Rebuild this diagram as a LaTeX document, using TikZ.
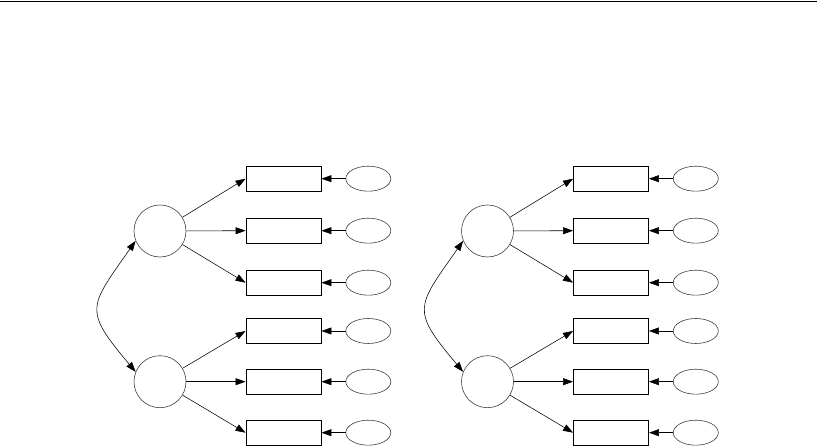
\documentclass[tikz,border=0pt]{standalone}
\usetikzlibrary{arrows.meta,shapes.geometric}
\begin{document}
\begin{tikzpicture}[x=1pt,y=1pt,
  obs/.style={draw=black,line width=0.9pt,minimum width=75pt,minimum height=25pt,inner sep=0pt},
  lat/.style={circle,draw=black!75,line width=0.6pt,minimum size=52pt,inner sep=0pt},
  err/.style={ellipse,draw=black!75,line width=0.6pt,minimum width=45pt,minimum height=25pt,inner sep=0pt},
  pth/.style={line width=0.55pt,-{Triangle[length=10pt,width=7pt]}},
  cov/.style={line width=0.55pt,{Triangle[length=10pt,width=7pt]}-{Triangle[length=10pt,width=7pt]}}]
\useasboundingbox (0,0) rectangle (817,446);
\coordinate (tl) at (0,444.6);
\coordinate (tr) at (817,444.6);
\draw[line width=1.2pt] (tl) -- (tr);
\foreach \p/\dx in {L/0,R/327.5}{
  \node[lat] (\p f1) at (160+\dx,215) {};
  \node[lat] (\p f2) at (160+\dx,64.3) {};
  \foreach \i/\y in {1/267.3,2/215.3,3/163.3,4/115,5/64.3,6/13.3}{
    \node[obs] (\p x\i) at (283.5+\dx,\y) {};
    \node[err] (\p e\i) at (368.3+\dx,\y) {};
    \draw[pth] (\p e\i.west) -- (\p x\i.east);
  }
  \foreach \i in {1,2,3}{\draw[pth] (\p f1) -- (\p x\i.west);}
  \foreach \i in {4,5,6}{\draw[pth] (\p f2) -- (\p x\i.west);}
  \draw[cov] (\p f1.202) to[out=235,in=130,looseness=1.6] (\p f2.158);
}
\end{tikzpicture}
\end{document}
